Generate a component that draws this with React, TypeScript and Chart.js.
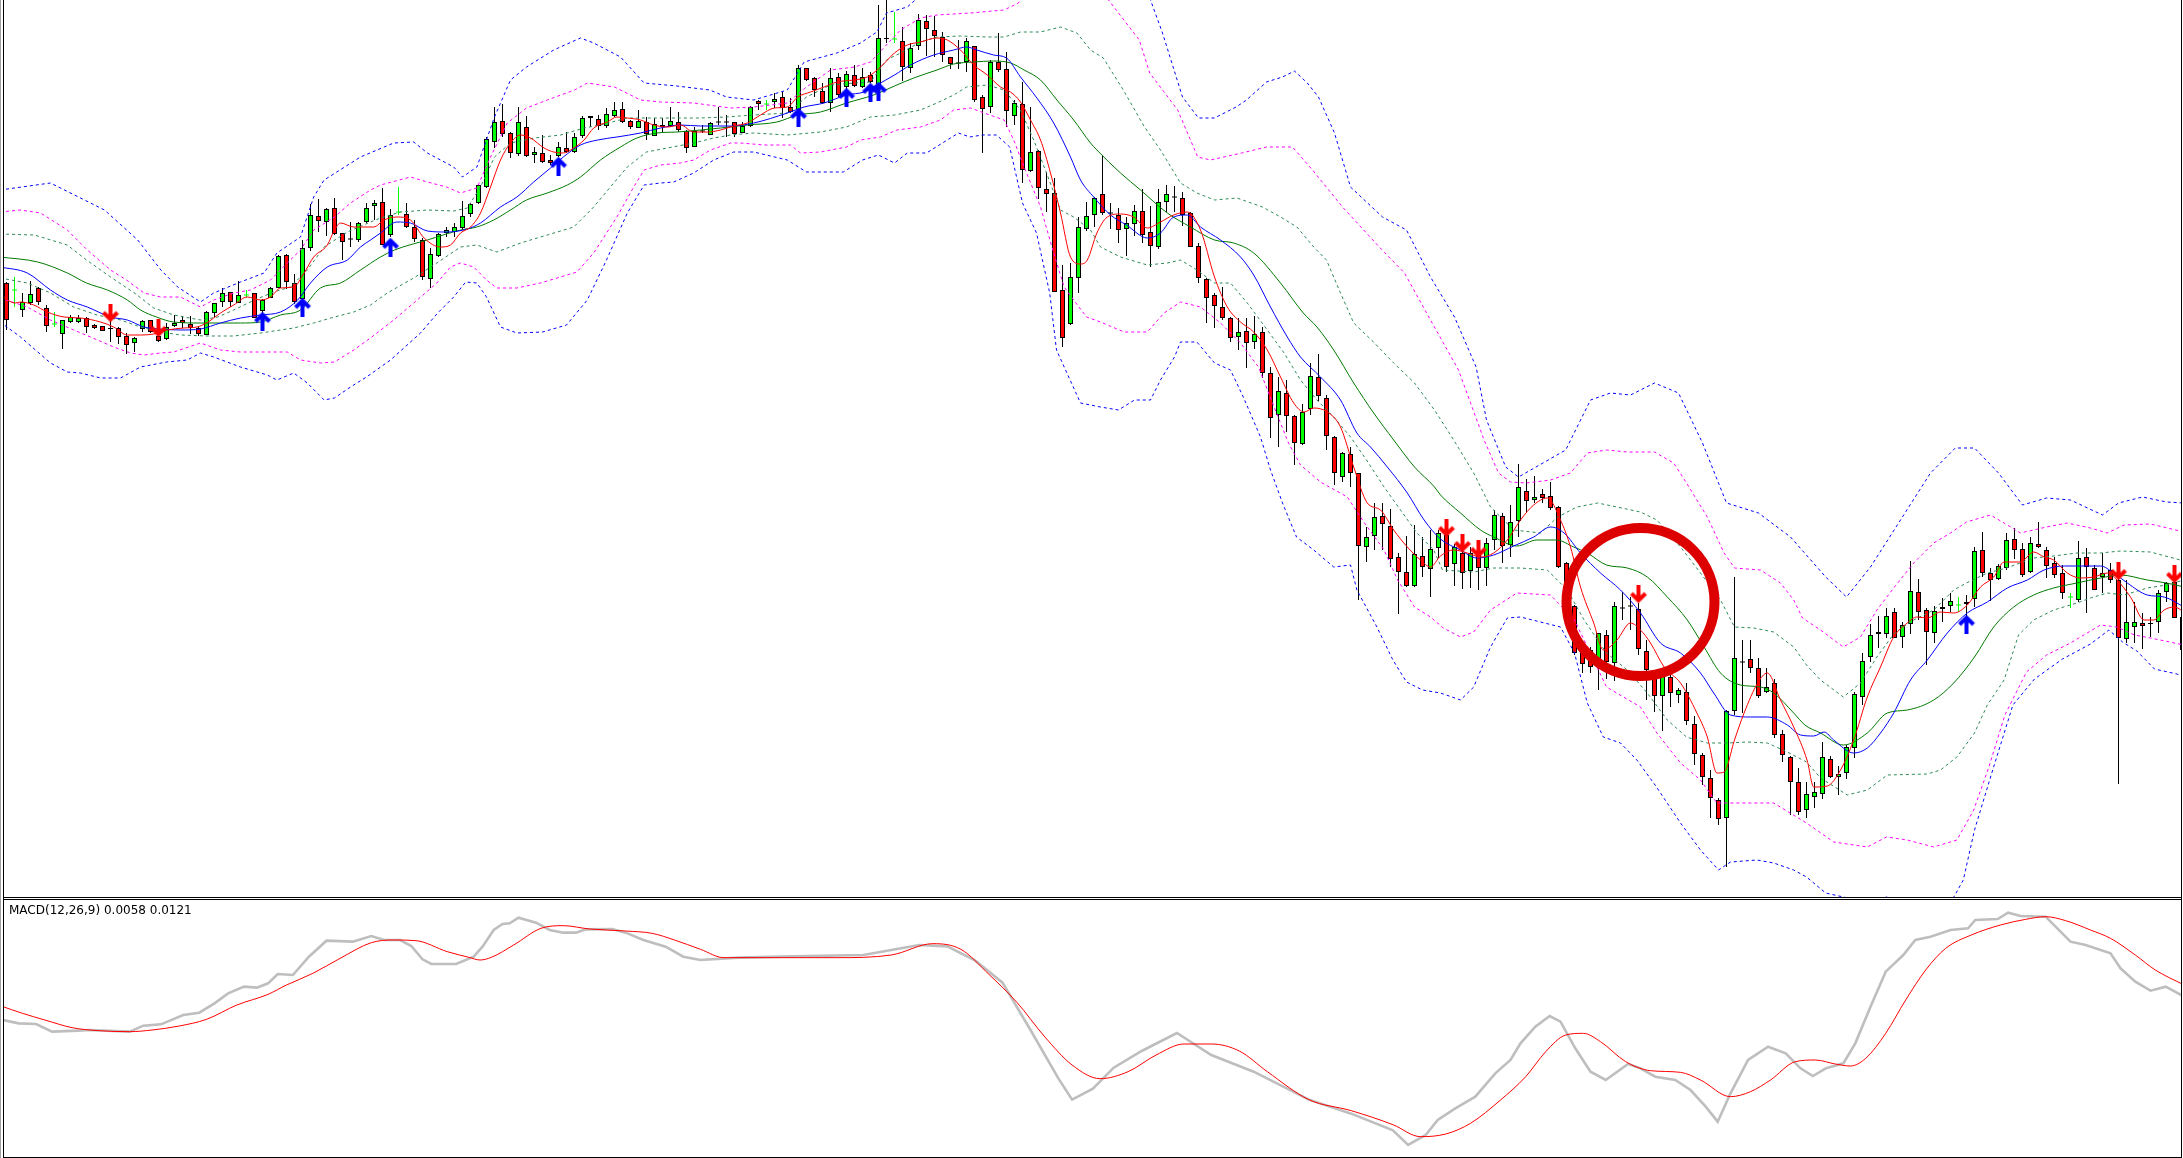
import React, { useEffect, useRef } from "react";
import { Chart, registerables } from "chart.js";

Chart.register(...registerables);

// ---------- Price data (one bar per index) ----------
const OPEN = [
  717,710,690,697,712,692,676,666,678,678,
  682,675,674,672,672,664,657,671,680,664,
  661,674,680,676,672,665,687,698,708,697,
  705,707,689,702,712,745,717,701,752,784,
  778,792,767,761,760,778,794,798,765,788,
  786,773,760,721,744,767,768,772,786,797,
  813,858,879,867,846,873,845,847,840,844,
  852,848,864,884,881,874,884,891,879,872,
  878,864,875,874,878,869,853,869,865,878,
  878,878,867,874,899,896,898,903,893,890,
  932,922,909,897,923,913,925,913,925,915,
  961,961,959,932,954,979,970,963,943,937,
  938,954,903,893,938,931,884,896,829,849,
  811,807,710,676,722,771,785,806,787,785,
  771,776,789,768,753,798,803,802,787,754,
  721,705,693,682,663,669,658,668,627,585,
  607,584,556,591,623,602,563,523,546,527,
  453,464,484,474,443,428,414,444,431,452,
  465,436,447,429,445,432,460,484,455,479,
  509,500,506,504,493,437,394,348,350,338,
  365,337,392,394,391,349,329,304,323,305,
  308,276,245,222,200,182,289,338,341,332,
  308,317,266,243,218,190,203,206,241,223,
  227,252,303,343,366,366,388,363,376,408,
  390,367,391,394,395,396,401,450,427,421,
  432,461,451,428,456,450,437,427,403,400,
  443,432,423,430,420,361,373,377,377,378,
  408,418,383,
];
const HIGH = [
  718,723,707,719,713,695,688,680,685,685,
  683,676,674,687,673,667,663,680,680,665,
  677,685,684,684,674,689,697,712,708,719,
  710,707,701,713,745,746,726,760,796,801,
  792,802,767,778,778,797,800,812,791,813,
  797,780,762,752,767,773,777,799,797,816,
  863,893,896,868,893,884,853,865,845,858,
  868,867,884,884,885,892,898,898,880,890,
  883,882,882,893,888,870,873,875,878,893,
  885,878,878,894,900,900,907,908,902,935,
  932,923,917,932,927,929,935,932,928,995,
  1005,988,973,957,986,985,984,968,943,960,
  962,954,905,940,967,948,900,918,893,850,
  828,822,735,737,783,798,803,845,797,792,
  783,795,811,794,811,815,814,808,788,757,
  722,707,713,683,682,682,684,673,633,623,
  620,585,596,637,646,605,564,548,553,527,
  473,497,497,491,447,464,475,463,470,470,
  475,456,458,453,452,462,490,487,495,536,
  521,524,511,518,494,438,395,352,353,367,
  370,398,408,403,397,360,330,330,327,312,
  317,284,247,230,202,290,423,360,360,342,
  332,321,270,244,232,218,218,258,244,234,
  255,308,347,376,384,392,392,378,439,421,
  392,394,402,407,403,405,453,468,432,436,
  467,472,457,463,478,453,443,435,407,459,
  452,435,447,437,428,420,398,387,383,410,
  418,423,387,
];
const LOW = [
  670,693,683,695,695,668,673,651,677,677,
  667,671,669,658,656,646,648,668,667,658,
  660,673,672,666,664,665,683,693,693,697,
  702,682,685,702,712,711,696,695,749,768,
  764,765,740,753,758,777,780,755,763,785,
  772,758,720,712,743,763,763,770,783,796,
  812,852,863,842,844,843,837,837,835,843,
  847,847,862,873,870,872,883,877,871,872,
  860,864,868,873,868,847,853,867,865,875,
  863,863,867,873,890,890,892,882,887,882,
  919,903,896,888,903,900,913,912,917,910,
  957,957,919,927,950,944,943,938,931,931,
  928,898,847,887,928,873,875,817,828,801,
  788,708,653,675,707,769,773,785,771,757,
  744,764,757,733,751,788,788,774,753,717,
  677,672,680,658,650,632,651,622,562,553,
  568,535,555,585,599,550,515,518,513,400,
  438,450,450,433,386,413,413,423,403,442,
  428,414,411,412,410,414,450,437,443,463,
  487,497,497,490,432,392,345,327,327,310,
  321,319,380,370,345,300,288,269,293,297,
  275,235,215,182,175,133,285,287,327,302,
  307,262,238,185,185,182,192,201,222,205,
  221,242,295,338,352,362,362,352,366,380,
  335,357,378,388,388,383,393,423,399,420,
  430,441,423,427,452,422,422,401,392,398,
  387,410,407,417,216,357,357,351,363,367,
  398,382,350,
];
const CLOSE = [
  680,710,698,706,698,674,676,680,683,682,
  673,672,669,671,663,655,662,679,668,659,
  673,677,677,672,666,688,697,707,698,705,
  705,682,700,712,744,718,698,752,785,779,
  791,766,758,761,777,792,797,755,785,788,
  773,761,723,746,766,770,773,784,796,815,
  861,878,866,847,878,844,848,838,837,853,
  848,863,882,882,874,886,890,878,873,879,
  866,876,873,879,870,852,869,869,877,878,
  878,866,874,893,896,896,901,892,888,932,
  920,910,897,922,905,926,914,923,918,962,
  962,961,933,952,980,971,964,945,936,937,
  959,900,891,938,930,889,897,830,848,812,
  806,708,662,723,773,784,802,787,787,770,
  777,789,765,754,798,806,803,785,753,722,
  702,694,682,662,668,657,666,627,582,609,
  584,557,588,624,604,564,527,547,527,454,
  463,483,476,441,428,414,446,433,451,467,
  433,453,427,447,432,457,485,454,478,513,
  499,503,502,492,433,396,347,336,333,367,
  338,394,392,394,351,330,304,328,307,310,
  279,246,223,202,181,289,342,338,332,304,
  313,265,245,218,188,206,208,243,223,226,
  253,306,339,365,368,384,362,375,409,388,
  368,389,393,399,395,398,449,427,420,434,
  460,450,425,457,453,434,425,407,403,442,
  433,410,427,420,362,378,378,374,376,407,
  417,382,350,
];
// dojis drawn in the bull colour
const GREEN_DOJI = [1, 6, 30, 49, 95, 111, 244, 258];

// ---------- Signals: [bar, price] ----------
const SELL_ARROWS: [number, number][] = [
  [13, 687], [19, 672], [180, 472], [182, 457], [184, 451], [204, 406], [264, 429], [271, 426],
];
const BUY_ARROWS: [number, number][] = [
  [32, 679], [37, 693], [48, 753], [69, 834], [99, 883], [105, 903], [108, 908], [109, 909], [245, 376],
];
const HIGHLIGHT: [number, number][] = [[204.25, 398]];

// ---------- Indicator lines: [bar, value] ----------
type P = [number, number | null];
const BAND3_UP: P[] = [
  [-0.8,810],[5.5,817],[12.25,790],[16.4,760],[19.3,730],[21.4,713],[24.25,698],[25.9,707],[29.25,718],[32.2,727],
  [33.8,747],[36.75,763],[38.4,803],[39.7,820],[44.25,843],[48.4,857],[50.9,858],[52.6,847],[55.9,833],[57,823],
  [58.8,833],[61,883],[63,920],[65,933],[68.4,950],[71.75,962],[73.4,957],[76.75,943],[79.7,917],[83.8,914],
  [87.9,910],[90,903],[93.4,900],[97.6,910],[99.7,938],[103.8,947],[106.75,957],[108.8,968],[110,987],[112.6,993],
  [113.6,1000],[115,1012],[120,null],[142,1012],[143,1000],[144.5,967],[147,903],[149,882],[151,882],[153.7,893],
  [155,900],[157.5,918],[159.5,923],[161,929],[162.6,917],[164,903],[166,867],[168,813],[172,783],[175,770],
  [178,723],[181,683],[183.7,633],[185,580],[187.4,533],[189,523],[194.9,550],[198,600],[200.5,607],[203,605],
  [206,617],[209,607],[212,557],[215,497],[219,487],[223,463],[227.4,423],[230,403],[233,433],[236.75,480],
  [240.5,527],[243.6,552],[246,552],[249,527],[252,495],[255,502],[258,500],[262,485],[264,497],[267,503],
  [270,498],[272.2,497],
];
const BAND3_DN: P[] = [
  [-0.8,678],[1.75,663],[5.5,637],[7.6,628],[9.25,627],[11.75,622],[14.25,622],[16.75,633],[20,638],[22.6,640],
  [24.25,647],[25.9,643],[29.25,633],[32.6,625],[33.8,620],[35.9,627],[37.6,617],[39.7,600],[41,602],[43,613],
  [45,623],[48,640],[51.75,667],[53.9,687],[55.9,703],[57.4,718],[58.8,717],[60,703],[61.75,673],[63.8,667],
  [67,668],[70,675],[72.6,700],[75,740],[77.6,787],[79.7,815],[81.75,817],[83.4,818],[85.9,827],[88.4,840],
  [90.9,848],[93.4,848],[97.6,840],[100,828],[104.6,828],[107,840],[109,845],[111,837],[112.6,847],[115,847],
  [117.6,860],[119,867],[120.4,863],[122,865],[123.75,865],[125.4,853],[127,797],[128.75,767],[130.4,707],[131.25,650],
  [134.25,597],[136.75,593],[139,590],[141,600],[143,600],[144.25,620],[146,643],[146.75,658],[148.8,658],[151,637],
  [153,630],[154.6,603],[156.75,563],[158,530],[159.5,497],[161.25,463],[163.4,450],[165.9,433],[168,435],[168.8,410],
  [171.3,373],[173.3,340],[175,318],[177,310],[179.25,307],[181.75,300],[183.4,313],[185.5,353],[187.6,382],[189.25,383],
  [191.75,378],[194.25,373],[196,347],[197.6,297],[199.6,263],[201.75,257],[203.8,240],[206.25,213],[209.25,177],[211.75,150],
  [214,130],[215.5,138],[218.8,140],[220.9,137],[223.4,130],[225,123],[227.4,107],[229.6,103],[233,97],[235,103],
  [238,97],[243,97],[244.6,120],[246,170],[248.2,228],[250.8,295],[253.5,321],[257,341],[260.5,356],[262.8,370],
  [264.5,358],[266.3,349],[268.5,331],[271.3,326],[272.2,323],
];
const BAND2_UP: P[] = [
  [-0.8,788],[1.75,790],[4.25,787],[7.6,770],[10.1,750],[13,730],[15,720],[17.2,707],[19.25,703],[21.75,703],
  [24.25,693],[25.9,700],[28.4,707],[30.5,710],[33,720],[35.1,737],[36.75,750],[38.4,770],[41,783],[43,797],
  [45.5,810],[46.75,815],[50.5,823],[52.6,818],[55,813],[56.75,807],[58.8,812],[60.5,843],[62.6,877],[65,892],
  [67.6,900],[71,910],[72.6,917],[76,913],[79.25,900],[81.75,898],[85.9,897],[90.5,892],[93.4,893],[97.6,897],
  [100,913],[103,930],[106,933],[108,938],[109.75,953],[111.75,970],[114.25,982],[116.3,985],[120.5,987],[124.7,990],
  [126.5,997],[127.5,1012],[130,null],[137,1012],[137.75,1000],[141.6,960],[142.9,927],[146.4,890],[148.9,843],[150.5,840],
  [154.4,847],[157.5,853],[160.75,853],[163.25,830],[167,793],[171.6,753],[174.75,727],[178,680],[181.5,630],[184.7,560],
  [186.5,527],[188,518],[190,517],[193,520],[195.5,527],[197.6,547],[200,550],[202.6,548],[206,548],[208.4,537],
  [210,517],[212.6,483],[214.7,447],[216,432],[219.25,430],[221.75,417],[223.4,400],[224.5,382],[226.75,370],[229.6,353],
  [231.75,363],[233.8,390],[236,413],[238.4,437],[240.9,457],[243,467],[245,478],[248,485],[249.7,477],[251.75,467],
  [255,473],[257.6,477],[260.5,472],[262.6,467],[264.7,475],[268,476],[272.2,468],
];
const BAND2_DN: P[] = [
  [-0.8,702],[2.6,693],[5.5,680],[8.4,670],[10.5,663],[13.4,653],[15.5,647],[17.2,645],[19.25,647],[20.9,648],
  [24.25,657],[26.75,650],[29.25,648],[32.6,648],[35.1,648],[36.75,640],[39.25,637],[41,638],[43.4,650],[45.5,662],
  [48.4,680],[50.9,697],[53.8,717],[55.5,733],[56.75,737],[58.4,733],[60,720],[61.3,712],[63.8,712],[66.75,717],
  [69.25,723],[71.3,728],[73.4,747],[76.3,783],[78.4,813],[79.7,830],[81.75,835],[84.25,837],[85.9,840],[88,850],
  [90.5,857],[91.75,857],[94.7,855],[98,855],[99.25,847],[101.75,848],[105,853],[106.75,860],[109.25,863],[111.3,870],
  [114.25,873],[116.75,880],[118.4,890],[120.5,892],[122.2,887],[124.7,880],[125.9,860],[127.2,833],[129.25,793],[130.9,747],
  [132.2,713],[133.4,700],[135,683],[136.75,678],[139.7,668],[142.6,668],[144.7,687],[146.75,698],[149.25,693],[151.75,677],
  [154.25,657],[156.5,633],[158.6,590],[160.25,557],[161.75,535],[164.25,518],[167.6,503],[169.75,477],[172.2,450],[173.9,420],
  [176,393],[178,383],[179.6,372],[181.75,363],[183.4,368],[185.5,390],[188.8,407],[193,405],[196,380],[200,313],
  [204.25,293],[206.3,267],[209.25,237],[211.75,220],[213.8,197],[215.5,197],[220.9,197],[225,177],[228.4,158],[232.6,153],
  [235,163],[237.6,160],[240.9,153],[243.8,160],[245.9,190],[247.8,233],[249.8,285],[252.5,328],[255,345],[258,357],
  [261.75,375],[263.8,373],[266,365],[268,362],[272.2,355],
];
const BAND1_UP: P[] = [
  [-0.8,766],[3.5,765],[7.6,755],[10,740],[13,723],[16,707],[18.4,692],[20.9,685],[24.25,680],[26.4,683],
  [28.4,690],[31,700],[33.4,708],[35.5,713],[37.6,730],[39.7,753],[42.6,768],[45.5,778],[46.75,782],[49.25,788],
  [52.6,790],[55.9,789],[57.6,792],[59.25,813],[61,843],[63,857],[66,862],[69.25,865],[72.2,872],[74.25,875],
  [77.6,882],[80.5,882],[83.8,882],[86.75,882],[90,883],[93.4,885],[97.6,887],[100,903],[103,915],[106,917],
  [108,918],[110,940],[111.75,947],[114.25,958],[116.3,963],[119.25,964],[122.6,963],[124.7,963],[126.75,968],[129.25,968],
  [131.75,973],[133.8,967],[135.5,950],[137.1,942],[139.6,910],[142.25,873],[144.25,850],[146.75,817],[148.8,807],[151,800],
  [153.8,802],[157,793],[159.25,783],[161.3,773],[163.4,753],[165,740],[166.75,707],[168.4,677],[171,657],[173.4,637],
  [176,617],[178.5,590],[180.9,560],[183.4,527],[185.5,493],[188.4,470],[191.75,467],[193.9,483],[196.3,493],[198.9,497],
  [201.3,493],[204.25,488],[206.3,480],[209.25,453],[211.75,427],[214.25,400],[216,373],[218.4,372],[220.9,368],[223.4,353],
  [225,335],[226.75,320],[229.6,303],[231.75,317],[233.8,343],[236,367],[238.4,380],[240.9,390],[243.4,410],[245,417],
  [247.6,427],[250,432],[253.4,442],[255.9,444],[258.8,447],[261.75,447],[264.25,449],[268,448],[272.2,439],
];
const BAND1_DN: P[] = [
  [-0.8,722],[2.6,717],[5.5,707],[8.4,693],[11.3,685],[14.25,680],[16.75,673],[19.25,668],[21.75,665],[25,664],
  [28.4,664],[31.75,667],[34.25,670],[35.9,672],[38.4,677],[41,683],[43.4,688],[45.5,695],[47.6,707],[50.9,722],
  [53.8,737],[56.75,753],[58.8,755],[61.3,748],[64.25,757],[67.6,765],[70.9,773],[73.4,793],[75.9,817],[77.6,833],
  [80,848],[82.6,852],[85.9,857],[88.4,862],[90.5,865],[93.4,867],[97.6,865],[101.75,868],[105,873],[108,883],
  [111,885],[114.25,890],[116.3,897],[118.4,905],[120,913],[122.6,915],[124.7,910],[126.75,890],[128.4,860],[130,827],
  [131.75,790],[133.4,783],[135.5,770],[136.75,753],[139.25,743],[142.6,735],[145.1,737],[146.75,740],[148.8,730],[151,717],
  [153,717],[155.1,697],[157.6,670],[159.7,647],[161.75,620],[163.8,600],[165.9,583],[168,563],[170,540],[172.2,513],
  [174.25,490],[176.3,467],[178.4,450],[179.5,430],[183.4,428],[185.9,432],[189.25,432],[192.6,430],[195.1,410],[197.2,380],
  [200,347],[202.6,330],[205.1,307],[207.6,280],[210,263],[212.6,257],[215.1,257],[217.6,258],[220.1,257],[222.6,248],
  [225,238],[226.75,222],[230.1,205],[232.6,210],[235.1,225],[240.1,226],[241.75,230],[243.8,243],[246,267],[247.6,295],
  [249.7,320],[251.5,365],[253.4,380],[255.9,390],[258.8,397],[260.5,402],[262.6,407],[264.7,405],[267.6,412],[270,415],
  [272.2,420],
];
const MA_SLOW: P[] = [
  [-0.8,743],[3.9,738],[7.6,727],[10,717],[12.6,710],[15.1,700],[16.75,690],[18.75,683],[20.9,678],[24.25,677],
  [26.75,677],[29.25,677],[31.75,678],[34.25,685],[36.75,690],[39.25,712],[41.75,717],[44.25,730],[46.75,743],[48.5,750],
  [52.6,760],[56.75,770],[58.8,773],[60.9,780],[63,790],[65,800],[67.6,807],[70.1,815],[71.75,823],[74.25,840],
  [76.75,853],[78.8,862],[81.3,867],[83.8,868],[86.75,870],[89.25,872],[92.6,875],[96.3,878],[98.9,885],[101.75,888],
  [105,897],[108.4,905],[111,914],[113.4,922],[116.3,930],[118.4,936],[120.9,938],[123.4,939],[125.5,937],[127.2,930],
  [129.25,920],[131.3,900],[133.4,880],[135.5,857],[136.3,850],[139.25,827],[141.75,810],[145.1,787],[148,773],[151,760],
  [153.4,757],[155.9,747],[159.25,717],[162.1,687],[163.8,673],[165.9,650],[168.4,617],[170.9,587],[173.4,560],[176,533],
  [178.5,513],[179.25,505],[181.75,487],[184.25,470],[185.9,463],[188.8,454],[191.3,460],[193.75,460],[195.9,453],[197.6,447],
  [200,435],[202.6,432],[205.1,423],[207.6,403],[210.1,380],[212.2,353],[214.25,327],[216.75,315],[219.25,313],[220.9,307],
  [223.4,287],[224.8,275],[226.75,267],[229.6,255],[232.6,267],[235.1,287],[237.6,290],[240.9,300],[243.4,317],[246,343],
  [248.4,373],[250.9,393],[253.4,405],[255.9,412],[258.8,417],[261.75,422],[264.25,425],[267.6,420],[270,417],[272.2,413],
];
const MA_MID: P[] = [
  [-0.8,733],[2.6,727],[5.5,710],[7.6,700],[10.1,693],[13,683],[15.1,680],[17.2,673],[19.25,671],[21.75,670],
  [24.25,671],[26.75,677],[29.25,682],[31.75,685],[34.25,688],[36.4,700],[38,717],[40.1,733],[42.6,740],[44.25,753],
  [45.5,760],[46.75,767],[48.8,778],[50.5,777],[52.6,769],[55,768],[57.6,771],[59.25,777],[61.75,793],[63.8,803],
  [65.9,818],[68,832],[69.6,843],[71.75,855],[73.9,860],[76.3,863],[79.25,867],[81.75,872],[84.25,875],[86.75,874],
  [90.5,874],[93.4,877],[97.6,887],[99.7,893],[102.2,897],[105,905],[107.2,908],[108.8,915],[111,925],[113,935],
  [115.9,945],[118.4,950],[120,953],[121.3,950],[123.4,945],[125,942],[126.75,923],[128.8,902],[130.9,877],[133,843],
  [134.25,820],[135.9,803],[138,785],[140,775],[142.6,762],[144.25,767],[145.9,783],[147.6,785],[149.25,773],[151.75,760],
  [154.25,743],[155.9,725],[158,693],[160.1,663],[161.75,643],[164.25,623],[166.75,600],[168.8,567],[170.5,553],[172.6,533],
  [175.1,507],[177.2,480],[179.25,461],[181.75,450],[183.8,442],[185.9,445],[188.4,454],[190.9,463],[193,473],[194.7,467],
  [196.75,447],[199.25,427],[201.75,410],[204.25,387],[206.75,357],[209.25,347],[211.75,327],[213.4,307],[215.5,285],[218,283],
  [220.1,283],[222.6,275],[224.25,265],[225.9,264],[227.2,268],[228.4,260],[230.9,247],[232.6,252],[234.25,267],[235.9,287],
  [238,320],[240.1,340],[242.6,367],[245.1,387],[247.6,398],[250.1,412],[252.6,420],[254.7,430],[257.25,434],[261.75,434],
  [263.4,427],[265.1,417],[267.6,405],[269.7,403],[272.2,393],
];
const MA_FAST: P[] = [
  [-0.8,705],[1.1,697],[1.75,698],[3.4,695],[5.1,688],[7.2,683],[9.25,682],[11.75,678],[13.4,673],[15.1,665],
  [16.75,665],[18.4,666],[20.1,670],[22.2,672],[23.8,673],[25,677],[26.75,687],[28.4,695],[30.1,703],[31.75,700],
  [33,703],[34.25,712],[35.9,713],[37.2,727],[38.4,743],[40.1,755],[41,770],[41.75,777],[43.4,773],[45.9,773],
  [47.2,780],[48.8,783],[50.5,780],[52.2,762],[54.25,753],[55.5,755],[56.75,767],[58,773],[59.25,787],[60.5,813],
  [61.75,840],[63,857],[64.25,865],[65.5,862],[67.2,852],[68.4,848],[69.6,847],[70.9,852],[72.2,860],[73.4,872],
  [75.1,878],[76.3,883],[77.6,882],[79.25,880],[80.9,875],[82.6,873],[84.25,875],[85.9,868],[87.6,868],[89.25,870],
  [90.9,874],[92.6,877],[94.25,885],[96,892],[97.6,893],[98.9,903],[100.5,908],[102.2,913],[103.8,918],[105.9,920],
  [107.6,923],[109.25,933],[111,947],[112.6,955],[114.25,958],[116.3,962],[117.6,960],[119.25,950],[120.9,935],[122.6,925],
  [124.25,913],[125.5,908],[126.75,898],[128,880],[129.25,860],[130.5,827],[131.75,787],[133,743],[134.25,736],[135.1,740],
  [136.3,767],[137.6,783],[139.25,786],[140.9,783],[142.6,772],[144.25,778],[145.9,785],[147.6,788],[149.25,770],[151,723],
  [152.6,693],[154.25,678],[155.9,668],[157.6,650],[159.25,623],[160.9,597],[162.2,588],[163.4,592],[165.1,588],[166.75,573],
  [168.4,533],[170.1,497],[171.75,490],[173.4,470],[175.1,453],[176.75,440],[178,433],[179.25,444],[180.9,450],[182.6,447],
  [184.25,443],[185.9,447],[187.6,460],[189.25,480],[190.9,495],[192.6,502],[194.25,480],[195.5,453],[196.75,413],[198.4,377],
  [199.6,350],[201.3,360],[203,377],[204.25,370],[205.5,357],[207.2,333],[209.25,317],[211.3,287],[212.6,263],[213.8,227],
  [214.7,228],[216,260],[217.2,287],[218.9,317],[220.1,327],[221.75,300],[223.4,273],[225.1,239],[225.9,213],[227.6,214],
  [229.25,230],[230.9,260],[232.6,303],[234.25,333],[235.9,363],[237.6,377],[238.8,383],[240.1,382],[241.75,388],[243.4,387],
  [245.1,395],[246.75,413],[248.4,423],[249.7,438],[251.75,438],[253.4,448],[254.7,443],[255.9,440],[257.6,427],[259.25,422],
  [260.9,423],[262.6,427],[263.8,420],[265.5,403],[267.2,380],[268.4,380],[269.7,390],[271,393],[272.2,388],
];

// ---------- MACD (values in units of 0.0001) ----------
const MACD_MAIN: P[] = [
  [-0.8,-22],[1.5,-34],[3.7,-36],[5.7,-59],[9,-56],[10.4,-54],[15.4,-59],[17.1,-41],[19.3,-37],[22.1,-9],
  [24.1,-2],[26,26],[27.7,56],[29.7,76],[31.3,73],[32.7,86],[33.9,114],[35.8,111],[37.8,166],[40,214],
  [43.3,211],[45.6,228],[47.2,216],[49.2,216],[50.6,198],[52,158],[53.1,144],[56.2,144],[58.4,166],[59.5,196],
  [60.9,246],[62,264],[62.9,266],[64,283],[66.2,268],[67.9,246],[69.6,238],[71.2,238],[72.4,248],[75.7,249],
  [77.4,238],[79.6,216],[82.4,196],[84.6,166],[86.75,156],[91.5,163],[98.4,167],[107.1,171],[114.1,201],[117.6,197],
  [121.1,154],[124.5,88],[128,-54],[131.5,-200],[133.2,-263],[135.8,-230],[138.4,-167],[141.9,-117],[146.3,-63],[150.6,-129],
  [155.9,-179],[162.8,-263],[168.1,-305],[173.3,-355],[175.2,-399],[177.4,-369],[178.9,-324],[181.1,-289],[183.6,-254],[186.1,-184],
  [188,-144],[189.25,-94],[191.1,-44],[192.9,-12],[194.25,-29],[196.1,-109],[198,-179],[199.9,-204],[202.7,-156],[204.25,-169],
  [206.1,-194],[208.6,-204],[210.5,-234],[212.4,-284],[213.9,-329],[215.5,-244],[217.7,-144],[220.2,-104],[222.4,-124],[224.25,-169],
  [225.8,-192],[227.4,-169],[229.6,-154],[231.1,-94],[233,16],[234.9,121],[237.1,171],[238.6,216],[240.5,226],[243,246],
  [245.2,251],[246.1,276],[248.9,279],[250.2,298],[251.75,288],[254.9,286],[258,211],[259.9,201],[263,176],[264.25,131],
  [266.1,91],[268,64],[269.9,76],[272.2,46],
];
const MACD_SIGNAL: P[] = [
  [-0.8,19],[2,-4],[4.8,-24],[8.2,-47],[11.5,-56],[15.4,-59],[18.2,-54],[21.6,-42],[25,-22],[28.8,21],
  [32.7,53],[35,81],[38.3,116],[41.7,161],[45.6,208],[48.4,216],[51.2,214],[55.1,181],[57.8,164],[59.2,156],
  [60.6,164],[63.4,201],[66.8,251],[69.6,259],[72.9,249],[77.4,243],[80.7,236],[83.5,216],[86.75,188],[89.7,163],
  [96.7,163],[103.7,163],[110.6,171],[115.8,205],[119.3,188],[122.8,113],[126.3,29],[129.8,-75],[133.2,-159],[136.7,-200],
  [140.2,-179],[143.7,-129],[147.2,-96],[150.6,-96],[154.1,-117],[157.6,-179],[162.8,-263],[168.1,-296],[173.3,-338],[176.75,-374],
  [179.9,-366],[183,-334],[186.75,-264],[189.9,-194],[192.4,-119],[194.9,-69],[197.1,-64],[199.25,-89],[202.4,-149],[205.5,-176],
  [209.25,-181],[211.75,-204],[215.5,-254],[218,-239],[220.5,-204],[223.6,-149],[226.1,-144],[228.6,-156],[230.5,-162],[232.4,-139],
  [234.9,-64],[237.4,36],[239.9,126],[242.4,191],[245.6,231],[249.25,261],[252.4,278],[254.9,286],[257.4,274],[260.5,246],
  [263,221],[266.1,171],[268.6,126],[272.2,81],
];
const MACD_LABEL = "MACD(12,26,9) 0.0058 0.0121";

// ---------- layout ----------
const W = 2183;
const MAIN_H = 897;
const MACD_TOP = 899;
const MACD_H = 258;
const X_MIN = -0.8125;
const X_MAX = 272.0625;
const PRICE_MIN = 103;
const PRICE_MAX = 1000;
const MACD_MIN = -0.0435;
const MACD_MAX = 0.0339;

const BULL = "#00ff00";
const BEAR = "#ff0000";

function pts(a: P[], scale = 1) {
  return a.map(([x, y]) => ({ x, y: y === null ? null : y * scale }));
}

function makeArrow(color: string, down: boolean) {
  const c = document.createElement("canvas");
  c.width = 18;
  c.height = 19;
  const g = c.getContext("2d")!;
  g.strokeStyle = color;
  g.lineWidth = 4;
  g.lineCap = "butt";
  g.lineJoin = "miter";
  if (!down) {
    g.translate(0, 19);
    g.scale(1, -1);
  }
  g.beginPath();
  g.moveTo(9, 0);
  g.lineTo(9, 16);
  g.stroke();
  g.beginPath();
  g.moveTo(2, 9);
  g.lineTo(9, 16);
  g.lineTo(16, 9);
  g.stroke();
  return c;
}

const baseOptions = (yMin: number, yMax: number): any => ({
  animation: false,
  responsive: false,
  maintainAspectRatio: false,
  devicePixelRatio: 1,
  events: [],
  layout: { padding: 0, autoPadding: false },
  plugins: { legend: { display: false }, tooltip: { enabled: false } },
  scales: {
    x: { type: "linear", min: X_MIN, max: X_MAX, display: false, offset: false, grid: { display: false } },
    y: { type: "linear", min: yMin, max: yMax, display: false, grid: { display: false } },
  },
});

export default function App() {
  const mainRef = useRef<HTMLCanvasElement>(null);
  const macdRef = useRef<HTMLCanvasElement>(null);

  useEffect(() => {
    const n = OPEN.length;
    const idx = Array.from({ length: n }, (_, i) => i);
    const wick = idx.map((i) => ({
      x: i,
      y: [Math.min(LOW[i], OPEN[i], CLOSE[i]), Math.max(HIGH[i], OPEN[i], CLOSE[i])],
    }));
    const wickColor = idx.map((i) => (GREEN_DOJI.includes(i) ? BULL : "#000000"));
    const body = idx.map((i) => {
      const o = OPEN[i], c = CLOSE[i];
      return o === c ? { x: i, y: [o - 0.5, o + 0.5] } : { x: i, y: [Math.min(o, c), Math.max(o, c)] };
    });
    const bodyColor = idx.map((i) =>
      OPEN[i] === CLOSE[i] ? (GREEN_DOJI.includes(i) ? BULL : "#000000") : CLOSE[i] > OPEN[i] ? BULL : BEAR
    );
    const bodyBorder = idx.map((i) => (OPEN[i] === CLOSE[i] ? 0 : 1));

    const line = (data: P[], color: string, dash: number[], order: number, smooth = false) => ({
      type: "line",
      data: pts(data),
      borderColor: color,
      borderWidth: 1,
      borderDash: dash,
      pointRadius: 0,
      fill: false,
      tension: smooth ? 0.4 : 0,
      cubicInterpolationMode: smooth ? "monotone" : "default",
      spanGaps: false,
      order,
    });

    const sellImg = makeArrow("#ff0000", true);
    const buyImg = makeArrow("#0000ff", false);

    const main = new Chart(mainRef.current!, {
      type: "bar",
      data: {
        datasets: [
          {
            type: "bar",
            data: wick,
            backgroundColor: wickColor,
            borderWidth: 0,
            barThickness: 1,
            grouped: false,
            inflateAmount: 0,
            order: 30,
          },
          {
            type: "bar",
            data: body,
            backgroundColor: bodyColor,
            borderColor: "#000000",
            borderWidth: bodyBorder,
            borderSkipped: false,
            barThickness: 5,
            grouped: false,
            inflateAmount: 0,
            order: 29,
          },
          line(BAND3_UP, "#0000ff", [3, 3], 16),
          line(BAND3_DN, "#0000ff", [3, 3], 16),
          line(BAND2_UP, "#ff00ff", [3, 3], 15),
          line(BAND2_DN, "#ff00ff", [3, 3], 15),
          line(BAND1_UP, "#2e8b57", [3, 3], 14),
          line(BAND1_DN, "#2e8b57", [3, 3], 14),
          line(MA_SLOW, "#007a00", [], 8, true),
          line(MA_MID, "#0000ff", [], 7, true),
          line(MA_FAST, "#ff0000", [], 6, true),
          {
            type: "line",
            data: SELL_ARROWS.map(([x, y]) => ({ x, y })),
            showLine: false,
            pointStyle: sellImg,
            pointRadius: 9,
            order: 3,
          },
          {
            type: "line",
            data: BUY_ARROWS.map(([x, y]) => ({ x, y })),
            showLine: false,
            pointStyle: buyImg,
            pointRadius: 9,
            order: 3,
          },
          {
            type: "line",
            data: HIGHLIGHT.map(([x, y]) => ({ x, y })),
            showLine: false,
            pointStyle: "circle",
            pointRadius: 74,
            pointBorderWidth: 10,
            pointBorderColor: "#dd0000",
            pointBackgroundColor: "rgba(0,0,0,0)",
            order: 1,
          },
        ] as any,
      },
      options: baseOptions(PRICE_MIN, PRICE_MAX),
    });

    const macd = new Chart(macdRef.current!, {
      type: "line",
      data: {
        datasets: [
          {
            data: pts(MACD_MAIN, 0.0001),
            borderColor: "#bebebe",
            borderWidth: 2.6,
            pointRadius: 0,
            tension: 0,
            order: 2,
          },
          {
            data: pts(MACD_SIGNAL, 0.0001),
            borderColor: "#ff0000",
            borderWidth: 1,
            pointRadius: 0,
            tension: 0.4,
            cubicInterpolationMode: "monotone",
            order: 1,
          },
        ] as any,
      },
      options: baseOptions(MACD_MIN, MACD_MAX),
    });

    return () => {
      main.destroy();
      macd.destroy();
    };
  }, []);

  const line = (s: React.CSSProperties) => (
    <div style={{ position: "absolute", background: "#000", zIndex: 2, ...s }} />
  );

  return (
    <div
      style={{
        position: "fixed",
        left: 0,
        top: 0,
        width: W,
        height: 1158,
        background: "#ffffff",
        overflow: "hidden",
      }}
    >
      <canvas
        ref={mainRef}
        width={W}
        height={MAIN_H}
        style={{ position: "absolute", left: 0, top: 0, width: W, height: MAIN_H }}
      />
      <canvas
        ref={macdRef}
        width={W}
        height={MACD_H}
        style={{ position: "absolute", left: 0, top: MACD_TOP, width: W, height: MACD_H }}
      />
      {/* panel frames */}
      <div style={{ position: "absolute", left: 0, top: 0, width: 3, height: 1158, background: "#ffffff", zIndex: 2 }} />
      <div style={{ position: "absolute", left: 0, top: 0, width: 1, height: 1158, background: "#a0a0a0", zIndex: 2 }} />
      {line({ left: 3, top: 0, width: 1, height: 1158 })}
      {line({ left: 2181, top: 0, width: 1, height: 1158 })}
      <div style={{ position: "absolute", left: 2182, top: 0, width: 1, height: 1158, background: "#ffffff", zIndex: 2 }} />
      {line({ left: 3, top: MAIN_H, width: 2179, height: 1 })}
      {line({ left: 3, top: MACD_TOP, width: 2179, height: 1 })}
      {line({ left: 3, top: 1157, width: 2179, height: 1 })}
      <div
        style={{
          position: "absolute",
          left: 9,
          top: 903,
          fontFamily: "'DejaVu Sans', sans-serif",
          fontSize: 12,
          lineHeight: "14px",
          color: "#000000",
          whiteSpace: "nowrap",
          zIndex: 3,
        }}
      >
        {MACD_LABEL}
      </div>
    </div>
  );
}
